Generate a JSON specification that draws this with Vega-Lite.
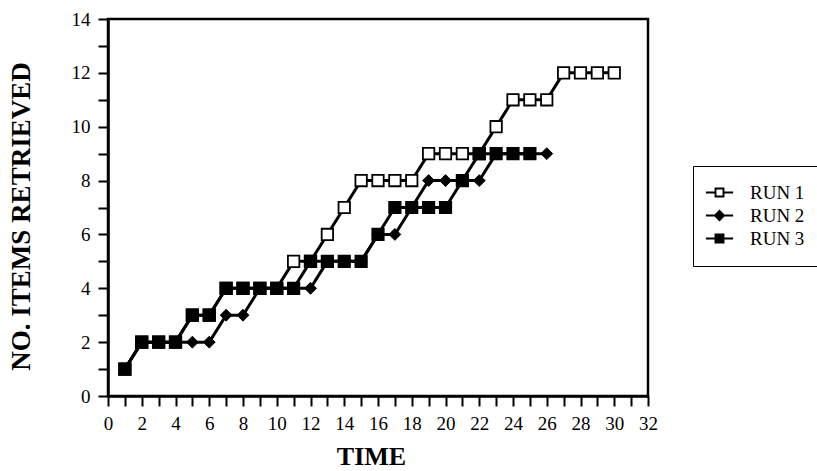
{
  "$schema": "https://vega.github.io/schema/vega-lite/v6.json",
  "width": 540,
  "height": 377,
  "autosize": "none",
  "padding": {"left": 108, "top": 19, "right": 169, "bottom": 75},
  "background": "white",
  "config": {
    "view": {"stroke": "black", "strokeWidth": 2.5},
    "font": "Liberation Serif",
    "axis": {
      "grid": false,
      "domainColor": "black", "domainWidth": 2.5,
      "tickColor": "black", "tickWidth": 2, "tickSize": 10,
      "labelFont": "Liberation Serif", "labelFontSize": 19, "labelColor": "black",
      "labelOverlap": false, "labelFlush": false,
      "titleFont": "Liberation Serif", "titleFontWeight": "bold", "titleColor": "black"
    },
    "legend": {
      "labelFont": "Liberation Serif", "labelFontSize": 19, "labelColor": "black"
    }
  },
  "data": {
    "values": [
      {"run": "RUN 1", "t": 1, "n": 1}, {"run": "RUN 1", "t": 2, "n": 2}, {"run": "RUN 1", "t": 3, "n": 2},
      {"run": "RUN 1", "t": 4, "n": 2}, {"run": "RUN 1", "t": 5, "n": 3}, {"run": "RUN 1", "t": 6, "n": 3},
      {"run": "RUN 1", "t": 7, "n": 4}, {"run": "RUN 1", "t": 8, "n": 4}, {"run": "RUN 1", "t": 9, "n": 4},
      {"run": "RUN 1", "t": 10, "n": 4}, {"run": "RUN 1", "t": 11, "n": 5}, {"run": "RUN 1", "t": 12, "n": 5},
      {"run": "RUN 1", "t": 13, "n": 6}, {"run": "RUN 1", "t": 14, "n": 7}, {"run": "RUN 1", "t": 15, "n": 8},
      {"run": "RUN 1", "t": 16, "n": 8}, {"run": "RUN 1", "t": 17, "n": 8}, {"run": "RUN 1", "t": 18, "n": 8},
      {"run": "RUN 1", "t": 19, "n": 9}, {"run": "RUN 1", "t": 20, "n": 9}, {"run": "RUN 1", "t": 21, "n": 9},
      {"run": "RUN 1", "t": 22, "n": 9}, {"run": "RUN 1", "t": 23, "n": 10}, {"run": "RUN 1", "t": 24, "n": 11},
      {"run": "RUN 1", "t": 25, "n": 11}, {"run": "RUN 1", "t": 26, "n": 11}, {"run": "RUN 1", "t": 27, "n": 12},
      {"run": "RUN 1", "t": 28, "n": 12}, {"run": "RUN 1", "t": 29, "n": 12}, {"run": "RUN 1", "t": 30, "n": 12},
      {"run": "RUN 2", "t": 1, "n": 1}, {"run": "RUN 2", "t": 2, "n": 2}, {"run": "RUN 2", "t": 3, "n": 2},
      {"run": "RUN 2", "t": 4, "n": 2}, {"run": "RUN 2", "t": 5, "n": 2}, {"run": "RUN 2", "t": 6, "n": 2},
      {"run": "RUN 2", "t": 7, "n": 3}, {"run": "RUN 2", "t": 8, "n": 3}, {"run": "RUN 2", "t": 9, "n": 4},
      {"run": "RUN 2", "t": 10, "n": 4}, {"run": "RUN 2", "t": 11, "n": 4}, {"run": "RUN 2", "t": 12, "n": 4},
      {"run": "RUN 2", "t": 13, "n": 5}, {"run": "RUN 2", "t": 14, "n": 5}, {"run": "RUN 2", "t": 15, "n": 5},
      {"run": "RUN 2", "t": 16, "n": 6}, {"run": "RUN 2", "t": 17, "n": 6}, {"run": "RUN 2", "t": 18, "n": 7},
      {"run": "RUN 2", "t": 19, "n": 8}, {"run": "RUN 2", "t": 20, "n": 8}, {"run": "RUN 2", "t": 21, "n": 8},
      {"run": "RUN 2", "t": 22, "n": 8}, {"run": "RUN 2", "t": 23, "n": 9}, {"run": "RUN 2", "t": 24, "n": 9},
      {"run": "RUN 2", "t": 25, "n": 9}, {"run": "RUN 2", "t": 26, "n": 9},
      {"run": "RUN 3", "t": 1, "n": 1}, {"run": "RUN 3", "t": 2, "n": 2}, {"run": "RUN 3", "t": 3, "n": 2},
      {"run": "RUN 3", "t": 4, "n": 2}, {"run": "RUN 3", "t": 5, "n": 3}, {"run": "RUN 3", "t": 6, "n": 3},
      {"run": "RUN 3", "t": 7, "n": 4}, {"run": "RUN 3", "t": 8, "n": 4}, {"run": "RUN 3", "t": 9, "n": 4},
      {"run": "RUN 3", "t": 10, "n": 4}, {"run": "RUN 3", "t": 11, "n": 4}, {"run": "RUN 3", "t": 12, "n": 5},
      {"run": "RUN 3", "t": 13, "n": 5}, {"run": "RUN 3", "t": 14, "n": 5}, {"run": "RUN 3", "t": 15, "n": 5},
      {"run": "RUN 3", "t": 16, "n": 6}, {"run": "RUN 3", "t": 17, "n": 7}, {"run": "RUN 3", "t": 18, "n": 7},
      {"run": "RUN 3", "t": 19, "n": 7}, {"run": "RUN 3", "t": 20, "n": 7}, {"run": "RUN 3", "t": 21, "n": 8},
      {"run": "RUN 3", "t": 22, "n": 9}, {"run": "RUN 3", "t": 23, "n": 9}, {"run": "RUN 3", "t": 24, "n": 9},
      {"run": "RUN 3", "t": 25, "n": 9}
    ]
  },
  "encoding": {
    "x": {
      "field": "t", "type": "quantitative",
      "scale": {"domain": [0, 32], "nice": false, "zero": false},
      "axis": {
        "title": "TIME",
        "values": [0,1,2,3,4,5,6,7,8,9,10,11,12,13,14,15,16,17,18,19,20,21,22,23,24,25,26,27,28,29,30,31,32],
        "labelExpr": "datum.value % 2 === 0 ? datum.label : ''",
        "labelPadding": 8,
        "titleFontSize": 26,
        "titleX": 263, "titleY": 68, "titleBaseline": "alphabetic", "titleAlign": "center",
        "encode": {
          "ticks": {"update": {"y2": {"signal": "datum.value % 2 === 0 ? 10 : 5"}}}
        }
      }
    },
    "y": {
      "field": "n", "type": "quantitative",
      "scale": {"domain": [0, 14], "nice": false},
      "axis": {
        "title": "NO. ITEMS RETRIEVED",
        "values": [0,1,2,3,4,5,6,7,8,9,10,11,12,13,14],
        "labelExpr": "datum.value % 2 === 0 ? datum.label : ''",
        "labelPadding": 8,
        "titleFontSize": 27,
        "titleX": -79, "titleY": 197, "titleAngle": -90, "titleBaseline": "alphabetic", "titleAlign": "center",
        "encode": {
          "ticks": {"update": {"x2": {"signal": "datum.value % 2 === 0 ? -10 : -5"}}}
        }
      }
    }
  },
  "layer": [
    {
      "mark": {"type": "line", "color": "black", "strokeWidth": 3},
      "encoding": {"detail": {"field": "run"}}
    },
    {
      "transform": [{"filter": "datum.run === 'RUN 1'"}],
      "mark": {"type": "point", "shape": "square", "filled": true, "fill": "white", "stroke": "black", "strokeWidth": 1.8, "size": 130, "opacity": 1},
      "encoding": {}
    },
    {
      "transform": [{"filter": "datum.run === 'RUN 2'"}],
      "mark": {"type": "point", "shape": "diamond", "filled": true, "fill": "black", "stroke": "black", "strokeWidth": 1, "size": 140, "opacity": 1},
      "encoding": {}
    },
    {
      "transform": [{"filter": "datum.run === 'RUN 3'"}],
      "mark": {"type": "point", "shape": "square", "filled": true, "fill": "black", "stroke": "black", "strokeWidth": 1.8, "size": 130, "opacity": 1},
      "encoding": {}
    },
    {
      "transform": [{"filter": "datum.t < 0"}],
      "mark": {"type": "point", "filled": true, "color": "black", "opacity": 1},
      "encoding": {
        "shape": {
          "field": "run", "type": "nominal",
          "scale": {
            "domain": ["RUN 1", "RUN 2", "RUN 3"],
            "range": [
              "M-1.7,-0.14H-0.6V0.14H-1.7ZM0.6,-0.14H1.7V0.14H0.6ZM-0.62,-0.62H0.62V0.62H-0.62ZM-0.38,-0.38V0.38H0.38V-0.38Z",
              "M-1.7,-0.14H-0.6V0.14H-1.7ZM0.6,-0.14H1.7V0.14H0.6ZM0,-0.74L0.74,0L0,0.74L-0.74,0Z",
              "M-1.7,-0.14H-0.6V0.14H-1.7ZM0.6,-0.14H1.7V0.14H0.6ZM-0.62,-0.62H0.62V0.62H-0.62Z"
            ]
          },
          "legend": {
            "title": null,
            "orient": "none", "legendX": 585, "legendY": 147,
            "strokeColor": "black", "padding": 17,
            "symbolSize": 256, "symbolFillColor": "black", "symbolStrokeWidth": 0,
            "rowPadding": 3,
            "labelFont": "Liberation Serif", "labelFontSize": 19, "labelColor": "black", "labelOffset": 21,
            "encode": {
              "legend": {"update": {"strokeWidth": {"value": 2}}},
              "symbols": {"update": {"fill": {"value": "black"}, "strokeWidth": {"value": 0}, "opacity": {"value": 1}}}
            }
          }
        }
      }
    }
  ]
}
